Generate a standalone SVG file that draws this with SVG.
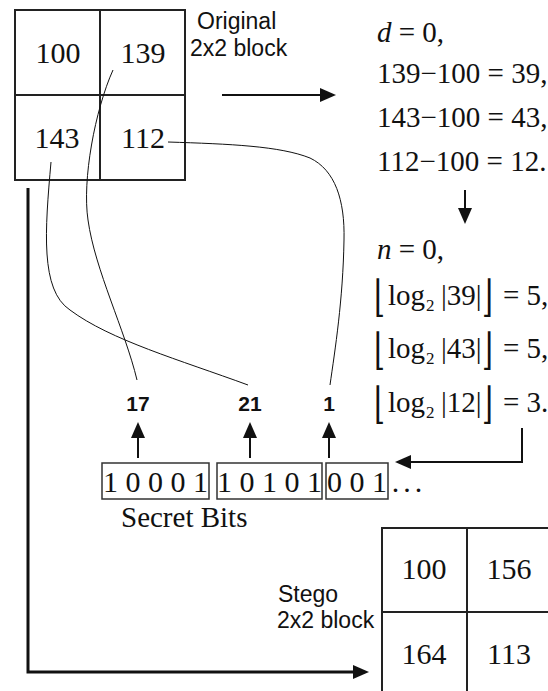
<svg xmlns="http://www.w3.org/2000/svg" width="548" height="691" viewBox="0 0 548 691">
  <defs>
    <marker id="head" markerUnits="userSpaceOnUse" markerWidth="16" markerHeight="14" refX="0" refY="7" orient="auto" overflow="visible">
      <path d="M0,0 L16,7 L0,14 z" fill="#111"/>
    </marker>
    <style>
      .cell { fill: none; stroke: #222; stroke-width: 2; }
      .num { font-family: "Liberation Serif", "Times New Roman", serif; font-size: 30px; fill: #111; text-anchor: middle; }
      .eq { font-family: "Liberation Serif", "Times New Roman", serif; font-size: 29px; fill: #111; }
      .it { font-style: italic; }
      .sub { font-size: 17px; }
      .br { font-family: "DejaVu Serif", serif; font-size: 28px; fill: #111; }
      .lbl { font-family: "Liberation Sans", Arial, sans-serif; font-size: 23px; fill: #111; }
      .val { font-family: "Liberation Sans", Arial, sans-serif; font-size: 21px; font-weight: bold; fill: #111; text-anchor: middle; }
      .bits { font-family: "Liberation Serif", "Times New Roman", serif; font-size: 30px; fill: #111; text-anchor: middle; }
      .box { fill: none; stroke: #333; stroke-width: 1.5; }
      .arrow { fill: none; stroke: #111; stroke-width: 2; marker-end: url(#head); }
      .thick { stroke-width: 3; }
      .link { fill: none; stroke: #111; stroke-width: 1; }
    </style>
  </defs>

  <!-- original 2x2 pixel block -->
  <g id="original-block">
    <rect class="cell" x="15" y="10" width="170" height="170"/>
    <line class="cell" x1="100" y1="10" x2="100" y2="180"/>
    <line class="cell" x1="15" y1="95" x2="185" y2="95"/>
    <text class="num" x="58" y="63">100</text>
    <text class="num" x="143" y="63">139</text>
    <text class="num" x="57" y="148">143</text>
    <text class="num" x="143" y="148">112</text>
    <text class="lbl" x="197" y="29">Original</text>
    <text class="lbl" x="190" y="56">2x2 block</text>
  </g>

  <!-- differences against the base pixel -->
  <g id="differences" class="eq">
    <text x="377" y="42"><tspan class="it">d</tspan> = 0,</text>
    <text x="377" y="83">139−100 = 39,</text>
    <text x="377" y="127">143−100 = 43,</text>
    <text x="377" y="171">112−100 = 12.</text>
  </g>

  <!-- embedding capacities; floor brackets stretched to span the line -->
  <g id="capacities" class="eq">
    <text x="377" y="259"><tspan class="it">n</tspan> = 0,</text>

    <text class="br" transform="translate(374,311) scale(1,1.55)">⌊</text>
    <text y="305"><tspan x="388">log</tspan><tspan class="sub" x="426" dy="6">2</tspan><tspan x="441" dy="-6">|39|</tspan><tspan x="503">= 5,</tspan></text>
    <text class="br" transform="translate(482,311) scale(1,1.55)">⌋</text>

    <text class="br" transform="translate(374,364) scale(1,1.55)">⌊</text>
    <text y="358"><tspan x="388">log</tspan><tspan class="sub" x="426" dy="6">2</tspan><tspan x="441" dy="-6">|43|</tspan><tspan x="503">= 5,</tspan></text>
    <text class="br" transform="translate(482,364) scale(1,1.55)">⌋</text>

    <text class="br" transform="translate(374,418) scale(1,1.55)">⌊</text>
    <text y="412"><tspan x="388">log</tspan><tspan class="sub" x="426" dy="6">2</tspan><tspan x="441" dy="-6">|12|</tspan><tspan x="503">= 3.</tspan></text>
    <text class="br" transform="translate(482,418) scale(1,1.55)">⌋</text>
  </g>

  <!-- secret bit stream split into groups -->
  <g id="secret-bits">
    <rect class="box" x="102" y="463" width="107" height="36"/>
    <rect class="box" x="217" y="463" width="105" height="36"/>
    <rect class="box" x="326" y="463" width="62" height="36"/>
    <text class="bits" x="155.5" y="492">1 0 0 0 1</text>
    <text class="bits" x="269.5" y="492">1 0 1 0 1</text>
    <text class="bits" x="357" y="492">0 0 1</text>
    <text class="bits" x="409" y="492" letter-spacing="4">...</text>
    <text class="eq" x="121" y="527">Secret Bits</text>
  </g>

  <!-- decimal values of the bit groups -->
  <g id="values">
    <text class="val" x="138" y="411">17</text>
    <text class="val" x="250" y="411">21</text>
    <text class="val" x="329" y="411">1</text>
  </g>

  <!-- stego 2x2 block -->
  <g id="stego-block">
    <rect class="cell" x="382" y="528" width="170" height="168"/>
    <line class="cell" x1="467" y1="528" x2="467" y2="696"/>
    <line class="cell" x1="382" y1="612" x2="552" y2="612"/>
    <text class="num" x="424" y="579">100</text>
    <text class="num" x="509" y="579">156</text>
    <text class="num" x="424" y="664">164</text>
    <text class="num" x="509" y="664">113</text>
    <text class="lbl" x="278" y="602">Stego</text>
    <text class="lbl" x="277" y="628">2x2 block</text>
  </g>

  <!-- connectors -->
  <g id="connectors">
    <line class="arrow" x1="222" y1="95" x2="320" y2="95"/>
    <line class="arrow" x1="465" y1="190" x2="465" y2="208"/>
    <path class="arrow" d="M522,428 V462 H411"/>
    <line class="arrow" x1="138" y1="458" x2="138" y2="438"/>
    <line class="arrow" x1="250" y1="458" x2="250" y2="438"/>
    <line class="arrow" x1="329" y1="458" x2="329" y2="438"/>
    <path class="arrow thick" d="M28,188 V672 H353"/>
    <path class="link" d="M113,70 C95,110 82,180 88,220 C95,270 125,330 137,380"/>
    <path class="link" d="M51,162 C45,230 40,290 70,310 C110,340 180,360 248,385"/>
    <path class="link" d="M168,142 C230,144 280,146 310,158 C335,170 345,200 344,240 C343,300 335,350 330,385"/>
  </g>
</svg>
